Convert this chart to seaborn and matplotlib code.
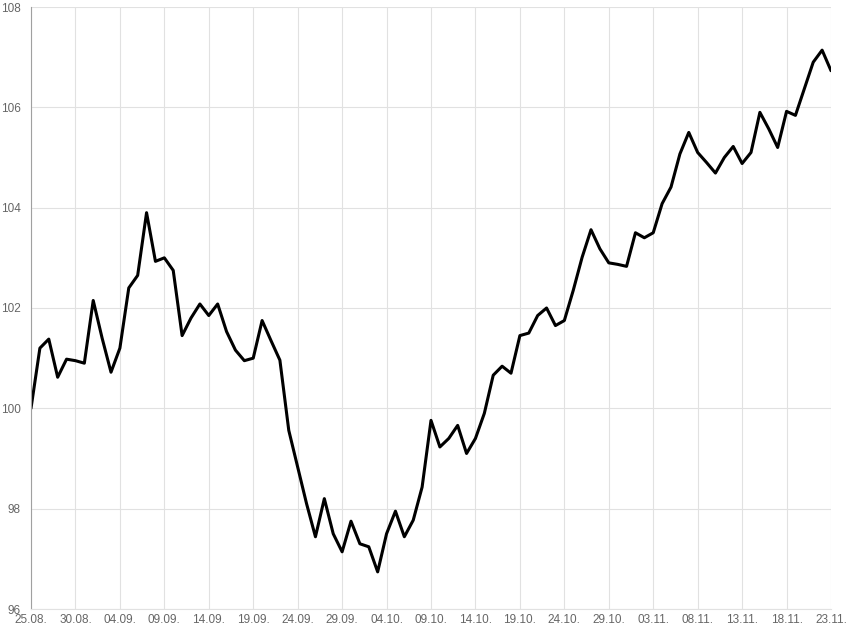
import pandas as pd
import matplotlib
matplotlib.use("Agg")
import matplotlib.pyplot as plt
import matplotlib.dates as mdates
import seaborn as sns

start_date = "2020-08-25"
values = [
    100.0, 101.2, 101.38, 100.62, 100.98, 100.95, 100.9, 102.15, 101.4, 100.72,
    101.2, 102.4, 102.65, 103.9, 102.93, 103.0, 102.75, 101.45, 101.8, 102.08,
    101.85, 102.08, 101.53, 101.16, 100.95, 101.0, 101.75, 101.35, 100.96, 99.56,
    98.83, 98.1, 97.44, 98.2, 97.5, 97.14, 97.75, 97.3, 97.24, 96.74,
    97.5, 97.95, 97.44, 97.77, 98.43, 99.76, 99.23, 99.4, 99.66, 99.1,
    99.4, 99.9, 100.66, 100.84, 100.7, 101.45, 101.5, 101.85, 102.0, 101.65,
    101.75, 102.35, 103.01, 103.56, 103.18, 102.9, 102.87, 102.83, 103.5, 103.4,
    103.5, 104.08, 104.41, 105.07, 105.5, 105.1, 104.9, 104.69, 105.0, 105.22,
    104.88, 105.1, 105.9, 105.57, 105.2, 105.92, 105.84, 106.37, 106.9, 107.14,
    106.73,
]
y_ticks = [96, 98, 100, 102, 104, 106, 108]
tick_step_days = 5

df = pd.DataFrame({
    "date": pd.date_range(start_date, periods=len(values), freq="D"),
    "value": values,
})

sns.set_style("white")
plt.rcParams["font.family"] = ["Liberation Sans", "DejaVu Sans"]

grid_color = "#e1e1e1"
text_color = "#666666"

fig = plt.figure(figsize=(8.5, 6.37), dpi=100)
ax = fig.add_axes([31 / 850, 28 / 637, 800 / 850, 602 / 637])

sns.lineplot(data=df, x="date", y="value", ax=ax, color="black",
             linewidth=2.2, solid_joinstyle="round", solid_capstyle="round")

ax.set_xlim(df["date"].iloc[0], df["date"].iloc[-1])
ax.set_ylim(y_ticks[0], y_ticks[-1])
ax.set_yticks(y_ticks)
ax.set_xticks(df["date"].iloc[::tick_step_days])
ax.xaxis.set_major_formatter(mdates.DateFormatter("%d.%m."))

ax.grid(True, color=grid_color, linewidth=0.8)
ax.set_axisbelow(True)
ax.set_xlabel("")
ax.set_ylabel("")

for side in ["top", "right"]:
    ax.spines[side].set_visible(False)
ax.spines["left"].set_color("#a0a0a0")
ax.spines["left"].set_linewidth(0.8)
ax.spines["bottom"].set_color(grid_color)
ax.spines["bottom"].set_linewidth(0.8)

ax.tick_params(axis="x", length=6, width=0.8, color=grid_color, pad=-2.5,
               labelsize=8.5, labelcolor=text_color)
ax.tick_params(axis="y", length=6.5, width=0.8, color=grid_color, pad=1,
               labelsize=8.5, labelcolor=text_color)

fig.savefig("out.png", dpi=100)
